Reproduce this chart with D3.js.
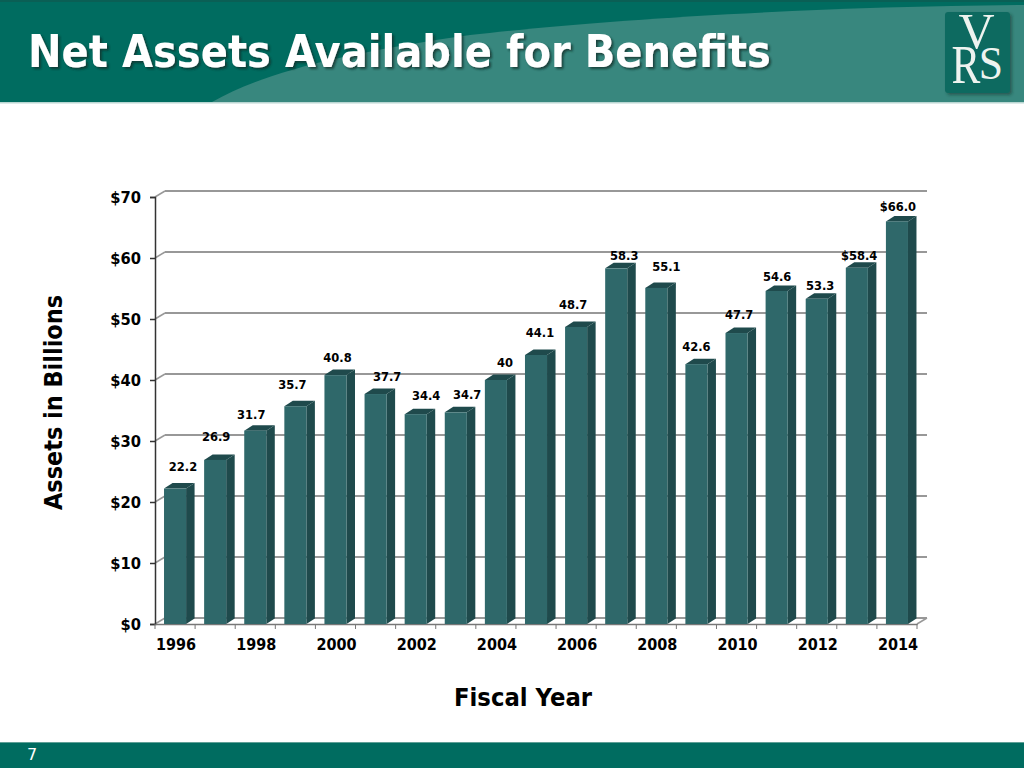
<!DOCTYPE html>
<html><head><meta charset="utf-8">
<script src="https://cdnjs.cloudflare.com/ajax/libs/d3/7.8.5/d3.min.js"></script>
<style>html,body{margin:0;padding:0;background:#fff}svg{display:block}text{font-family:"DejaVu Sans",sans-serif}</style>
</head><body><svg id="c" width="1024" height="768"></svg>
<script>
const years = [1996,1997,1998,1999,2000,2001,2002,2003,2004,2005,2006,2007,2008,2009,2010,2011,2012,2013,2014];
const assets = [22.2,26.9,31.7,35.7,40.8,37.7,34.4,34.7,40,44.1,48.7,58.3,55.1,42.6,47.7,54.6,53.3,58.4,66.0];
const valueLabels = ["22.2","26.9","31.7","35.7","40.8","37.7","34.4","34.7","40","44.1","48.7","58.3","55.1","42.6","47.7","54.6","53.3","$58.4","$66.0"];
const yTicks = [0,10,20,30,40,50,60,70];
// label nudges relative to each bar's centre/top
const labelDx = [8,1,-4,-3,2,11.5,10.4,11.3,9,4,-3,8,10,0,2.6,0.5,3.4,2.3,1];
const labelDy = [-21.6,-23,-15.6,-21,-17,-17,-18,-17,-17,-22,-22,-12,-21,-17,-18,-14,-13,-12,-14];

const svg = d3.select("#c");
const dk="#006c60", lt="#38877e";
const squeeze = (sel,k)=>sel.each(function(){const w=this.getComputedTextLength();d3.select(this).attr("textLength",w*k).attr("lengthAdjust","spacingAndGlyphs");});
const defs = svg.append("defs");
const f = defs.append("filter").attr("id","sh").attr("x","-5%").attr("y","-20%").attr("width","110%").attr("height","140%");
f.append("feDropShadow").attr("dx",2).attr("dy",2).attr("stdDeviation",1).attr("flood-color","#0a2f2a").attr("flood-opacity",.75);
const f2 = defs.append("filter").attr("id","ls").attr("x","-10%").attr("y","-10%").attr("width","125%").attr("height","125%");
f2.append("feDropShadow").attr("dx",2).attr("dy",2).attr("stdDeviation",1.5).attr("flood-color","#0a2f2a").attr("flood-opacity",.5);

// header
svg.append("rect").attr("width",1024).attr("height",102).attr("fill",dk);
svg.append("path").attr("d","M212,102C260,75 330,55 470,35C600,20 800,7 1024,5V102Z").attr("fill",lt);
svg.append("rect").attr("width",1024).attr("height",2).attr("fill","#0a5f55");
svg.append("rect").attr("y",102).attr("width",1024).attr("height",1.5).attr("fill","#b9d6d2");
svg.append("text").attr("x",28).attr("y",67).attr("font-size",44).attr("font-weight",700).attr("fill","#fff").attr("filter","url(#sh)").attr("textLength",743).attr("lengthAdjust","spacingAndGlyphs").text("Net Assets Available for Benefits");

// logo
svg.append("rect").attr("x",945).attr("y",12).attr("width",65).attr("height",81).attr("rx",3).attr("fill","#0b6a60").attr("filter","url(#ls)");
const logo = svg.append("g").attr("fill","#eef3ef");
const letter=(t,x0,y0,fs)=>logo.append("text").attr("x",x0).attr("y",y0).attr("font-size",fs).attr("text-anchor","middle").style("font-family","'Liberation Serif',serif").text(t);
letter("V",976.5,48,50);
letter("S",991,79,46).call(squeeze,.95);
letter("R",966,83,54).call(squeeze,.8);

// footer
svg.append("rect").attr("y",742).attr("width",1024).attr("height",26).attr("fill",dk);
svg.append("rect").attr("y",742).attr("width",1024).attr("height",1).attr("fill","#5fa097");
svg.append("text").attr("x",32).attr("y",760).attr("font-size",16).attr("fill","#fff").attr("text-anchor","middle").text("7");

// scales
const x = d3.scaleBand().domain(years).range([155,917]).paddingInner(.45).paddingOuter(.225);
const y = d3.scaleLinear().domain([0,70]).range([624,197]);
const depthX=10, depthY=6, barDX=8.5, barDY=5.5;
const grid="#989898", side="#1f4a4c", front="#2f686a";

// back wall
const g = svg.append("g");
g.selectAll("line.grid").data(yTicks).join("line").attr("class","grid")
 .attr("x1",155).attr("y1",d=>y(d)).attr("x2",155+depthX).attr("y2",d=>y(d)-depthY).attr("stroke",grid).attr("stroke-width",1.5);
g.selectAll("line.back").data(yTicks).join("line").attr("class","back")
 .attr("x1",155+depthX).attr("x2",917+depthX).attr("y1",d=>y(d)-depthY).attr("y2",d=>y(d)-depthY).attr("stroke",grid).attr("stroke-width",2);
g.append("line").attr("x1",917).attr("y1",y(0)).attr("x2",917+depthX).attr("y2",y(0)-depthY).attr("stroke",grid).attr("stroke-width",1.5);

// axes
const yAxis = d3.axisLeft(y).tickValues(yTicks).tickSize(5).tickPadding(9).tickFormat(d=>"$"+d);
const ay = svg.append("g").attr("transform","translate(155,0)").call(yAxis);
ay.selectAll("path,line").attr("stroke","#333").attr("stroke-width",1.5);
ay.selectAll("text").attr("font-size",16).attr("font-weight",700).attr("fill","#000").style("font-family","'DejaVu Sans',sans-serif").call(squeeze,.92);

const xAxis = d3.axisBottom(x).tickSize(0).tickPadding(15).tickFormat(d=>(d%2===0?d:""));
const ax = svg.append("g").attr("transform","translate(0,624)").call(xAxis);
ax.select("path").attr("stroke","#777").attr("stroke-width",1.5);
ax.selectAll("text").attr("font-size",16).attr("font-weight",700).attr("fill","#000").attr("dx",1).style("font-family","'DejaVu Sans',sans-serif").call(squeeze,.9);
const edges = years.map(d=>x(d)-(x.step()-x.bandwidth())/2).concat([917]);
ax.selectAll("line.edge").data(edges).join("line").attr("class","edge").attr("x1",d=>d).attr("x2",d=>d).attr("y1",0).attr("y2",5).attr("stroke","#777");

// bars
const bars = svg.append("g").selectAll("g").data(years.map((yr,i)=>({yr,v:assets[i],i}))).join("g");
bars.append("path").attr("fill",side).attr("d",d=>{const r=x(d.yr)+x.bandwidth(),t=y(d.v),b=y(0);
  return `M${r},${t}L${r+barDX},${t-barDY}L${r+barDX},${b-barDY}L${r},${b}Z`;});
bars.append("path").attr("fill",side).attr("d",d=>{const l=x(d.yr),r=l+x.bandwidth(),t=y(d.v);
  return `M${l},${t}L${l+barDX},${t-barDY}L${r+barDX},${t-barDY}L${r},${t}Z`;});
bars.append("rect").attr("fill",front).attr("x",d=>x(d.yr)).attr("width",x.bandwidth()).attr("y",d=>y(d.v)).attr("height",d=>y(0)-y(d.v));

// data labels
svg.append("g").selectAll("text").data(valueLabels).join("text")
 .attr("x",(d,i)=>x(years[i])+x.bandwidth()/2+labelDx[i]).attr("y",(d,i)=>y(assets[i])+labelDy[i]+4)
 .attr("text-anchor","middle").attr("font-size",12.5).attr("font-weight",700).attr("fill","#000").text(d=>d).call(squeeze,.92);

// axis titles
svg.append("text").attr("x",523).attr("y",706).attr("text-anchor","middle").attr("font-size",24).attr("font-weight",700).attr("textLength",138).attr("lengthAdjust","spacingAndGlyphs").text("Fiscal Year");
svg.append("text").attr("transform","translate(62,402.5) rotate(-90)").attr("text-anchor","middle").attr("font-size",25).attr("font-weight",700).attr("textLength",215).attr("lengthAdjust","spacingAndGlyphs").text("Assets in Billions");
</script></body></html>
